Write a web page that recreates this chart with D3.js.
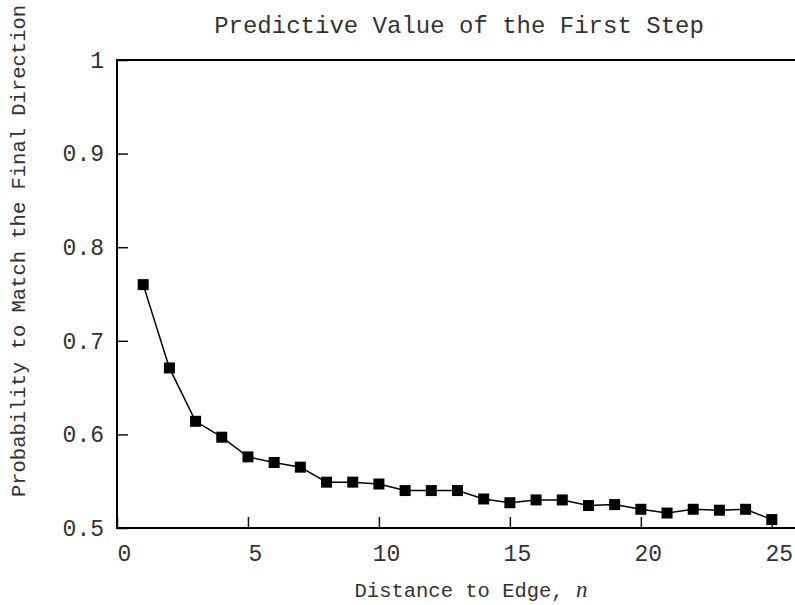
<!DOCTYPE html>
<html>
<head>
<meta charset="utf-8">
<script src="https://cdn.jsdelivr.net/npm/d3@7"></script>
<style>
  html, body { margin: 0; padding: 0; background: #fff; }
  svg { display: block; }
  .mono { font-family: "Liberation Mono", "Courier New", monospace; fill: #333; }
</style>
</head>
<body>
<svg id="chart" width="795" height="605"></svg>
<script>
// data
const distance = [1, 2, 3, 4, 5, 6, 7, 8, 9, 10, 11, 12, 13, 14, 15, 16, 17, 18, 19, 20, 21, 22, 23, 24, 25];
const probability = [0.760, 0.671, 0.614, 0.597, 0.576, 0.570, 0.565, 0.549, 0.549, 0.547,
  0.540, 0.540, 0.540, 0.531, 0.527, 0.530, 0.530, 0.524, 0.525, 0.520,
  0.516, 0.520, 0.519, 0.520, 0.509];
const xTicks = [0, 5, 10, 15, 20, 25];
const yTicks = [0.5, 0.6, 0.7, 0.8, 0.9, 1];

const svg = d3.select('#chart');

// plot frame
const plotLeft = 117, plotRight = 798, plotTop = 60, plotBottom = 528;

const x = d3.scaleLinear().domain([0, 26]).range([plotLeft, plotRight]);
const y = d3.scaleLinear().domain([0.5, 1]).range([plotBottom, plotTop]);

// x-axis: ticks point inward
const xAxis = d3.axisBottom(x).tickValues(xTicks).tickSize(-11).tickFormat(d3.format('d'));
svg.append('g')
  .attr('transform', `translate(0,${plotBottom})`)
  .call(xAxis)
  .call(g => g.select('.domain').remove())
  .call(g => g.selectAll('line').attr('stroke', '#111').attr('stroke-width', 1.5))
  .call(g => g.selectAll('text')
    .attr('class', 'mono')
    .attr('font-size', 23)
    .attr('dx', 7)
    .attr('dy', 0)
    .attr('y', 33));

// y-axis: ticks point inward
const yAxis = d3.axisLeft(y).tickValues(yTicks).tickSize(-11).tickFormat(d => d === 1 ? '1' : d3.format('.1f')(d));
svg.append('g')
  .attr('transform', `translate(${plotLeft},0)`)
  .call(yAxis)
  .call(g => g.select('.domain').remove())
  .call(g => g.selectAll('line').attr('stroke', '#111').attr('stroke-width', 1.5))
  .call(g => g.selectAll('text')
    .attr('class', 'mono')
    .attr('font-size', 23)
    .attr('x', -13)
    .attr('dy', '0.32em'));

// frame lines (left, top, bottom)
svg.append('path')
  .attr('d', `M${plotRight},${plotTop}H${plotLeft}V${plotBottom}H${plotRight}`)
  .attr('fill', 'none')
  .attr('stroke', '#000')
  .attr('stroke-width', 2);

// series line + square markers
const pts = distance.map((d, i) => ({n: d, p: probability[i]}));

svg.append('path')
  .datum(pts)
  .attr('fill', 'none')
  .attr('stroke', '#000')
  .attr('stroke-width', 1.5)
  .attr('d', d3.line().x(d => x(d.n)).y(d => y(d.p)));

const s = 11;
svg.selectAll('.mark').data(pts).join('rect')
  .attr('class', 'mark')
  .attr('x', d => x(d.n) - s / 2)
  .attr('y', d => y(d.p) - s / 2)
  .attr('width', s)
  .attr('height', s)
  .attr('fill', '#000');

// title
svg.append('text')
  .attr('class', 'mono')
  .attr('x', 459)
  .attr('y', 33)
  .attr('text-anchor', 'middle')
  .attr('font-size', 24)
  .text('Predictive Value of the First Step');

// x label
const xl = svg.append('text')
  .attr('class', 'mono')
  .attr('x', 471)
  .attr('y', 597)
  .attr('text-anchor', 'middle')
  .attr('font-size', 20.5);
xl.append('tspan').text('Distance to Edge, ');
xl.append('tspan')
  .attr('font-family', '"Liberation Serif", "Times New Roman", serif')
  .attr('font-style', 'italic')
  .attr('font-size', 23)
  .text('n');

// y label
svg.append('text')
  .attr('class', 'mono')
  .attr('transform', 'translate(25,251) rotate(-90)')
  .attr('text-anchor', 'middle')
  .attr('font-size', 20.5)
  .text('Probability to Match the Final Direction');
</script>
</body>
</html>
